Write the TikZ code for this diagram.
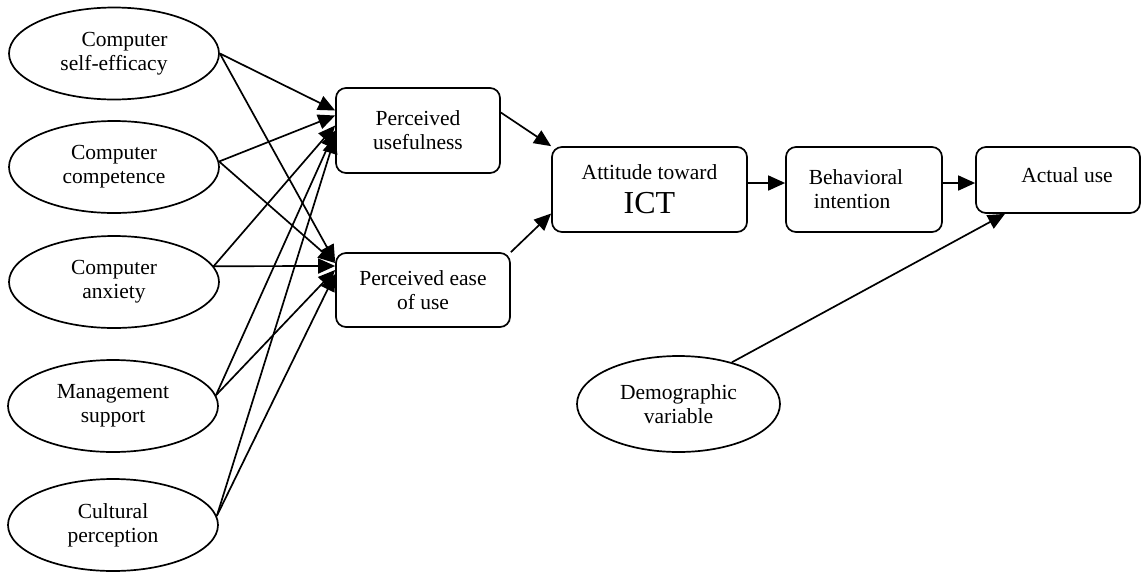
\documentclass[tikz,border=0pt]{standalone}
\usepackage{fontspec}
\setmainfont{Liberation Serif}
\usetikzlibrary{shapes.geometric,arrows.meta,calc}

\tikzset{
  factor/.style={draw, ellipse, line width=1.7pt, minimum width=210pt,
    minimum height=92pt, inner sep=0pt, align=center,
    font=\fontsize{21.5}{24}\selectfont},
  stage/.style={draw, rectangle, rounded corners=10pt, line width=1.7pt,
    inner sep=0pt, align=center, font=\fontsize{21.5}{24}\selectfont},
  link/.style={line width=1.7pt, -{Triangle[length=17pt,width=15pt]}},
}

\begin{document}
\begin{tikzpicture}[x=1pt, y=-1pt]
\useasboundingbox (0,0) rectangle (1144,574);

% external factors
\node[factor, align=right] (e1) at (114,53.5) {Computer\\self-efficacy};
\node[factor] (e2) at (114,167) {Computer\\competence};
\node[factor] (e3) at (114,282) {Computer\\anxiety};
\node[factor] (e4) at (113,406) {Management\\support};
\node[factor] (e5) at (113,525) {Cultural\\perception};
\node[factor, minimum width=203pt, minimum height=96pt] (dv) at (678.5,404) {Demographic\\variable};

% model stages
\node[stage, minimum width=164pt, minimum height=85pt] (pu) at (418,130.5) {Perceived\\usefulness};
\node[stage, minimum width=174pt, minimum height=74pt] (peou) at (423,290) {Perceived ease\\of use};
\node[stage, minimum width=195pt, minimum height=85pt] (att) at (649.5,189.5)
  {Attitude toward\\[10pt]{\fontsize{32}{34}\selectfont ICT}};
\node[stage, minimum width=156pt, minimum height=85pt, align=left] (bi) at (864,189.5)
  {Behavioral\hspace*{16pt}\\\hspace*{5pt}intention};
\node[stage, minimum width=164pt, minimum height=66pt, text height=15pt, text depth=11pt] (au) at (1058,180)
  {\hspace*{18pt}Actual use};

% factors -> perceived usefulness
\draw[link] (e1.east) -- ($(pu.west)+(0,-20)$);
\draw[link] (e2.3)    -- ($(pu.west)+(0,-15)$);
\draw[link] (e3.9)    -- ($(pu.west)+(0,-5)$);
\draw[link] (e4.6)    -- ($(pu.west)+(0,0)$);
\draw[link] (e5.5.5)  -- ($(pu.west)+(0,6)$);

% factors -> perceived ease of use
\draw[link] (e1.east) -- ($(peou.west)+(0,-28)$);
\draw[link] (e2.3)    -- ($(peou.west)+(0,-27)$);
\draw[link] (e3.9)    -- ($(peou.west)+(0,-24)$);
\draw[link] (e4.6)    -- ($(peou.west)+(0,-20)$);
\draw[link] (e5.5.5)  -- ($(peou.west)+(0,-16)$);

% main chain
\draw[link] ($(pu.east)+(0,-18)$) -- (att.north west);
\draw[link] (peou.north east) -- ($(att.west)+(0,24)$);
\draw[link] ($(att.east)+(0,-6.5)$) -- ($(bi.west)+(0,-6.5)$);
\draw[link] ($(bi.east)+(0,-6.5)$) -- ($(au.west)+(0,3)$);
\draw[link] (dv.38) -- ($(au.south)+(-53,0)$);
\end{tikzpicture}
\end{document}
